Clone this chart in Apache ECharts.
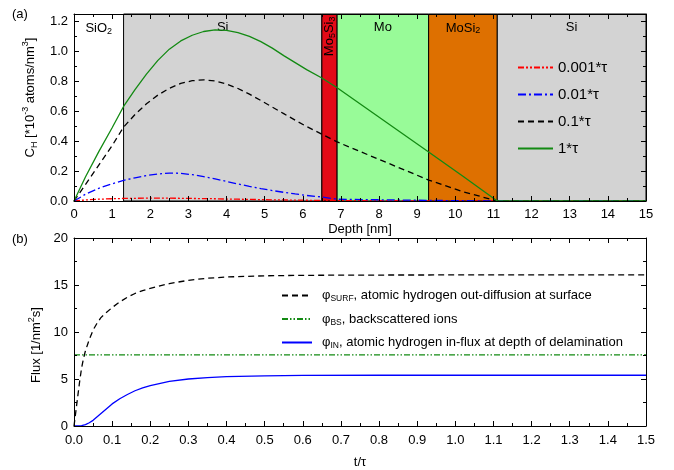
<!DOCTYPE html>
<html>
<head>
<meta charset="utf-8">
<script src="https://cdn.jsdelivr.net/npm/echarts@6/dist/echarts.min.js"></script>
<style>
html,body{margin:0;padding:0;background:#fff;}
#chart{width:674px;height:470px;}
</style>
</head>
<body>
<div id="chart"></div>
<script>
// ---------- Panel (a): hydrogen concentration vs depth ----------
var depth = [0, 0.3, 0.65, 1.0, 1.3, 1.6, 1.9, 2.2, 2.5, 2.8, 3.1, 3.4, 3.7, 4.0, 4.3, 4.6, 4.9, 5.2, 5.5, 5.8, 6.1, 6.5, 6.9, 9.3, 10.2, 11.1, 12, 13, 14, 15];
var c0001 = [0, 0.007, 0.012, 0.015, 0.017, 0.018, 0.019, 0.019, 0.019, 0.018, 0.017, 0.016, 0.015, 0.013, 0.012, 0.011, 0.009, 0.008, 0.007, 0.006, 0.005, 0.004, 0.003, 0.001, 0.0005, 0, 0, 0, 0, 0];
var c001 = [0, 0.045, 0.085, 0.115, 0.138, 0.155, 0.17, 0.18, 0.187, 0.185, 0.176, 0.163, 0.148, 0.131, 0.114, 0.098, 0.083, 0.07, 0.058, 0.047, 0.037, 0.027, 0.012, 0.004, 0.002, 0, 0, 0, 0, 0];
var c01 = [0, 0.11, 0.24, 0.37, 0.494, 0.578, 0.65, 0.708, 0.753, 0.786, 0.804, 0.81, 0.802, 0.782, 0.752, 0.714, 0.672, 0.628, 0.584, 0.54, 0.498, 0.447, 0.395, 0.14, 0.062, 0, 0, 0, 0, 0];
var c1 = [0, 0.16, 0.33, 0.49, 0.632, 0.745, 0.848, 0.94, 1.015, 1.07, 1.108, 1.133, 1.144, 1.141, 1.126, 1.1, 1.065, 1.022, 0.972, 0.925, 0.878, 0.822, 0.757, 0.327, 0.165, 0, 0, 0, 0, 0];
var seriesNamesA = ['0.001*τ', '0.01*τ', '0.1*τ', '1*τ'];

// Layer regions
var layerStart = [0, 1.3, 6.5, 6.9, 9.3, 11.1];
var layerEnd = [1.3, 6.5, 6.9, 9.3, 11.1, 15];
var layerNames = ['SiO2', 'Si', 'Mo5Si3', 'Mo', 'MoSi2', 'Si'];

// ---------- Panel (b): flux vs time ----------
var tSurf = [0, 0.005, 0.01, 0.015, 0.02, 0.025, 0.03, 0.04, 0.05, 0.06, 0.07, 0.08, 0.1, 0.12, 0.14, 0.16, 0.18, 0.2, 0.25, 0.3, 0.35, 0.4, 0.5, 0.6, 0.8, 1.0, 1.5];
var fluxSurf = [0, 1.6, 3.2, 4.8, 6.2, 7.2, 8.0, 9.2, 10.2, 10.9, 11.5, 11.9, 12.6, 13.2, 13.7, 14.1, 14.4, 14.65, 15.15, 15.5, 15.72, 15.85, 15.98, 16.03, 16.06, 16.07, 16.07];
var tBS = [0, 1.5];
var fluxBS = [7.57, 7.57];
var tIN = [0, 0.01, 0.02, 0.03, 0.04, 0.05, 0.06, 0.07, 0.08, 0.09, 0.1, 0.12, 0.14, 0.16, 0.18, 0.2, 0.25, 0.3, 0.35, 0.4, 0.5, 0.6, 0.8, 1.5];
var fluxIN = [0, 0.01, 0.05, 0.15, 0.35, 0.6, 0.95, 1.3, 1.65, 2.0, 2.35, 2.9, 3.35, 3.75, 4.05, 4.3, 4.75, 5.0, 5.15, 5.25, 5.34, 5.38, 5.4, 5.4];
var seriesNamesB = ['SURF', 'BS', 'IN'];
var legendTextB = [', atomic hydrogen out-diffusion at surface', ', backscattered ions', ', atomic hydrogen in-flux at depth of delamination'];

function zip(xs, ys) { return xs.map(function (x, i) { return [x, ys[i]]; }); }

var FONT = 'Liberation Sans, Arial, sans-serif';
var layerColors = ['transparent', '#d3d3d3', '#e30a17', '#98fb98', '#de7000', '#d3d3d3'];
var layerRich = {
  n: { fontSize: 13, fontFamily: FONT, color: '#000' },
  s: { fontSize: 9, fontFamily: FONT, color: '#000', verticalAlign: 'bottom', padding: [6, 0, 0, 0] }
};
function layerLabel(name) {
  return name.replace(/([A-Za-z]+)(\d)/g, function (m, a, d) { return '{n|' + a + '}{s|' + d + '}'; })
    .replace(/^([A-Za-z]+)$/, '{n|$1}');
}

var areas = layerStart.map(function (s, i) {
  var isRot = layerNames[i] === 'Mo5Si3';
  return [{
    xAxis: s,
    itemStyle: { color: layerColors[i], borderColor: '#000', borderWidth: i === 0 ? 0 : 1 },
    label: {
      show: true,
      formatter: layerLabel(layerNames[i]),
      rich: layerRich,
      position: 'insideTop',
      distance: isRot ? 3 : 7,
      rotate: isRot ? 90 : 0,
      align: isRot ? 'right' : 'center',
      verticalAlign: isRot ? 'middle' : 'top'
    }
  }, { xAxis: layerEnd[i] }];
});

function boxAxes(gridIndex, isX, cfg) {
  var common = {
    gridIndex: gridIndex,
    type: 'value',
    min: cfg.min, max: cfg.max, interval: cfg.interval,
    z: 10,
    axisLine: { show: true, onZero: false, lineStyle: { color: '#000', width: 1 } },
    axisTick: { show: true, inside: true, length: 5, lineStyle: { color: '#000' } },
    minorTick: { show: true, splitNumber: 2, length: 3, lineStyle: { color: '#000' } },
    splitLine: { show: false },
    minorSplitLine: { show: false }
  };
  var main = Object.assign({}, common, {
    position: isX ? 'bottom' : 'left',
    axisLabel: { show: true, fontSize: 13, fontFamily: FONT, color: '#000', margin: cfg.margin, formatter: cfg.fmt },
    name: cfg.name, nameLocation: 'middle', nameGap: cfg.nameGap,
    nameRotate: isX ? 0 : 90,
    nameTextStyle: cfg.nameStyle
  });
  var opp = Object.assign({}, common, {
    position: isX ? 'top' : 'right',
    axisLabel: { show: false }
  });
  return [main, opp];
}

var nameRich = {
  n: { fontSize: 13, fontFamily: FONT, color: '#000', lineHeight: 18 },
  sup: { fontSize: 9, fontFamily: FONT, color: '#000', verticalAlign: 'top', lineHeight: 18 },
  sub: { fontSize: 9, fontFamily: FONT, color: '#000', verticalAlign: 'bottom', lineHeight: 18 }
};

var xA = boxAxes(0, true, { min: 0, max: 15, interval: 1, name: 'Depth [nm]', nameGap: 22, margin: 7,
  fmt: function (v) { return Math.abs(v - Math.round(v)) < 1e-6 ? String(Math.round(v)) : ''; },
  nameStyle: { fontSize: 13, fontFamily: FONT, color: '#000' } });
var yA = boxAxes(0, false, { min: 0, max: 1.25, interval: 0.2, margin: 6,
  name: '{n|C}{sub|H}{n| [*10}{sup|-3}{n| atoms/nm}{sup|3}{n|]}', nameGap: 28,
  fmt: function (v) { return Math.abs(v * 5 - Math.round(v * 5)) < 1e-6 ? v.toFixed(1) : ''; },
  nameStyle: { rich: nameRich, padding: [0, 0, 0, 20] } });
var xB = boxAxes(1, true, { min: 0, max: 1.5, interval: 0.1, name: 't/τ', nameGap: 30, margin: 8,
  fmt: function (v) { return v.toFixed(1); },
  nameStyle: { fontSize: 13, fontFamily: FONT, color: '#000' } });
var yB = boxAxes(1, false, { min: 0, max: 20, interval: 5, margin: 6,
  name: '{n|Flux [1/nm}{sup|2}{n|s]}', nameGap: 28,
  fmt: function (v) { return String(v); },
  nameStyle: { rich: nameRich, padding: [0, 26, 0, 0] } });

var lineTypesA = [[6, 2, 2, 2, 2, 2], [8, 3, 2, 3], [6, 4], 'solid'];
var colorsA = ['#ff0000', '#0000ff', '#000000', '#138a13'];
var dataA = [c0001, c001, c01, c1];

var seriesA = seriesNamesA.map(function (nm, i) {
  return {
    name: nm, type: 'line', xAxisIndex: 0, yAxisIndex: 0, z: 5,
    data: zip(depth, dataA[i]), symbol: 'none', showSymbol: false,
    lineStyle: { color: colorsA[i], width: 1.3, type: lineTypesA[i] },
    itemStyle: { color: colorsA[i] }
  };
});

var lineTypesB = [[6, 4], [6, 2, 1.5, 2, 1.5, 2], 'solid'];
var colorsB = ['#000000', '#138a13', '#0000ff'];
var dataB = [zip(tSurf, fluxSurf), zip(tBS, fluxBS), zip(tIN, fluxIN)];
var seriesB = seriesNamesB.map(function (nm, i) {
  return {
    name: nm, type: 'line', xAxisIndex: 2, yAxisIndex: 2, z: 5,
    data: dataB[i], symbol: 'none', showSymbol: false,
    lineStyle: { color: colorsB[i], width: 1.3, type: lineTypesB[i] },
    itemStyle: { color: colorsB[i] }
  };
});

var option = {
  animation: false,
  backgroundColor: '#fff',
  textStyle: { fontFamily: FONT },
  grid: [
    { left: 74, right: 28, top: 14, height: 187, containLabel: false },
    { left: 74, right: 28, top: 238, height: 188, containLabel: false }
  ],
  xAxis: [xA[0], xA[1], xB[0], xB[1]],
  yAxis: [yA[0], yA[1], yB[0], yB[1]],
  legend: [
    {
      data: seriesNamesA, orient: 'vertical', left: 517, top: 59, padding: 0,
      itemWidth: 35, itemHeight: 14, itemGap: 10,
      itemStyle: { opacity: 0 },
      textStyle: { fontSize: 15, fontFamily: FONT, color: '#000', lineHeight: 17 }
    },
    {
      data: seriesNamesB, orient: 'vertical', left: 281, top: 289, padding: 0,
      itemWidth: 30, itemHeight: 12, itemGap: 9,
      itemStyle: { opacity: 0 },
      formatter: function (nm) {
        var i = seriesNamesB.indexOf(nm);
        return '{a|φ}{s|' + nm + '}{a|' + legendTextB[i] + '}';
      },
      textStyle: {
        fontFamily: FONT, color: '#000', padding: [0, 0, 0, 5],
        rich: {
          a: { fontSize: 13, fontFamily: FONT, color: '#000', lineHeight: 16 },
          s: { fontSize: 8.5, fontFamily: FONT, color: '#000', verticalAlign: 'bottom', lineHeight: 16 }
        }
      }
    }
  ],
  graphic: [
    { type: 'text', left: 12, top: 8, style: { text: '(a)', font: '13px ' + FONT, fill: '#000' } },
    { type: 'text', left: 12, top: 233, style: { text: '(b)', font: '13px ' + FONT, fill: '#000' } }
  ],
  series: [{
    name: 'layers', type: 'line', xAxisIndex: 0, yAxisIndex: 0, data: [], z: 1,
    markArea: { silent: true, data: areas }
  }].concat(seriesA, seriesB)
};

var chart = echarts.init(document.getElementById('chart'), null, { renderer: 'canvas' });
chart.setOption(option);
</script>
</body>
</html>
